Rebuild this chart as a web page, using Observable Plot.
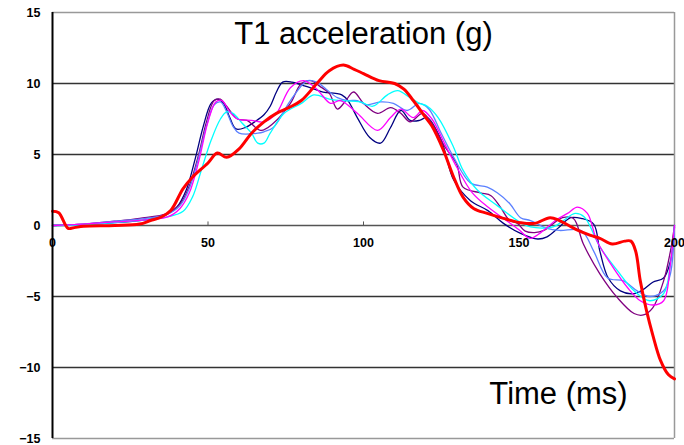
<!DOCTYPE html>
<html><head><meta charset="utf-8">
<script src="https://cdn.jsdelivr.net/npm/d3@7"></script>
<script src="https://cdn.jsdelivr.net/npm/@observablehq/plot@0.6"></script>
<style>
html,body{margin:0;padding:0;background:#fff;}
#chart svg{display:block;font-family:"Liberation Sans",Arial,sans-serif;}
</style></head>
<body><div id="chart"></div>
<script>
const title = "T1 acceleration (g)";
const xLabel = "Time (ms)";
const xTicks = [0, 50, 100, 150, 200];
const yTicks = [-15, -10, -5, 0, 5, 10, 15];
const gridValues = [10, 5, -5, -10];

const redT = [0,2,5,7,10,20,28,31.5,35,38,42,45,50,53,56,60,64,68,72,76,80,85,89,93.5,97,100,105,110,113,116,120,122,125.7,129,132,135.4,139.8,145,150.5,155,160,163,166,169,173,176,180,184,186,187.5,189,191,193,195.5,198,200];
const redV = [1.0,0.9,-0.2,-0.15,-0.05,0.0,0.1,0.35,0.6,1.05,2.6,3.4,4.4,5.1,4.8,5.4,6.5,7.3,7.9,8.3,8.8,10.0,10.9,11.3,11.0,10.7,10.2,10.0,9.6,8.8,7.6,7.0,5.3,3.4,2.0,1.2,0.85,0.5,0.2,0.15,0.55,0.35,0.0,-0.35,-0.7,-0.9,-1.3,-1.1,-1.1,-1.8,-3.9,-6.0,-7.7,-9.5,-10.5,-10.8];

const navyT = [0,10,20,30,36,40,43,46,48.5,51,53,55,57,59,62,65,68,70,72,74,77,80,83,87,91,93,95,98,102,105.5,108.7,112,115,118,120.5,125,129,134.4,140,145,150.5,156,159,163,166.6,170,174,176,178.7,182.6,187,190,193,196.5,198.7,200];
const navyV = [0,0.05,0.2,0.4,0.7,1.3,2.5,4.8,7.0,8.6,8.9,8.6,7.6,6.8,6.9,7.3,7.8,8.4,9.4,10.1,10.1,9.9,9.7,9.4,9.3,9.2,8.8,7.6,6.2,5.8,6.9,8.1,7.4,7.4,7.6,6.0,3.2,1.75,1.05,0.15,-0.55,-0.95,-0.8,-0.1,0.55,0.5,0.1,-1.8,-3.7,-4.6,-4.8,-4.5,-4.0,-3.7,-2.5,-0.1];

const purpleT = [0,10,20,28,37,41,44,47,49.5,52,54,56,59.5,62.5,67,71,76.5,80,83,86,89,91.6,94,96.8,100,104.5,108.7,112,115,119,122,126,130,132,137.6,141,144,147,149.5,152,155,158,164,167.5,170.7,176,181.7,187,190,193,196.5,198.7,200];
const purpleV = [0,0.1,0.3,0.5,0.85,1.5,2.8,5.0,7.3,8.8,8.9,8.4,7.5,7.4,6.7,7.2,8.6,10.0,10.2,9.8,9.3,8.2,8.7,9.4,8.6,7.9,8.3,7.9,7.3,7.9,7.2,5.6,4.3,2.7,2.3,2.1,1.3,0.35,0.15,-0.4,-0.5,-0.35,0.55,0.5,-1.3,-3.4,-5.1,-6.2,-6.3,-5.8,-3.9,-1.8,0];

const magentaT = [0,10,20,30,37,41,44,47,50,52.5,54.5,57,59.5,64,68,72,76.5,80.7,85,89.4,92.6,98,104.5,108.7,112,116,119,122,126,130,135,140,145,150,153.5,157,162,165.6,168.8,172,175,179.5,185,189,193,196.5,198.7,200];
const magentaV = [0,0.1,0.25,0.4,0.6,1.2,2.3,4.5,7.3,8.7,8.8,8.0,7.5,7.4,7.3,7.9,9.7,10.2,9.6,8.6,8.8,7.9,6.7,7.6,8.2,7.6,8.1,7.5,5.8,4.1,2.3,1.3,0.5,-0.3,-0.9,-0.5,0.4,0.85,1.3,0.85,-1.05,-2.7,-4.4,-5.3,-5.6,-5.3,-2.7,0];

const cyanT = [0,10,20,30,37,42,45,48,51,54,56,58,61,64,66,68,70,74.5,80,84,89,92.6,99,103,107.7,111,115,118,120.5,124,129,132,136.6,143,149.5,153.7,161,164,168,171,176,181.7,187,192,196.5,198.7,200];
const cyanV = [0,0.05,0.2,0.4,0.6,1.0,2.0,4.0,6.0,7.5,8.0,7.9,7.2,6.5,5.8,5.8,6.5,7.9,8.6,9.2,8.9,8.8,8.7,8.4,9.2,9.5,9.0,8.6,8.4,7.6,5.5,3.9,2.5,1.4,0.35,-0.1,-0.1,0.3,0.85,0.6,-1.5,-3.2,-4.6,-5.3,-4.8,-2.7,0];

const blueT = [0,10,20,30,37,41,44,47,49.5,52,54,56,58,60,66,68,71,76.5,82,85,88,91.6,95,98,101,105.5,109.6,114,118,121,125,129,134.4,139.8,143,147,150.5,153.7,159,163,170,174,178.5,183.6,188,192,196.5,198.7,200];
const blueV = [0,0.1,0.3,0.5,0.8,1.4,2.6,4.8,7.0,8.5,8.7,8.0,7.0,6.5,6.5,6.6,6.9,8.8,10.2,10.1,9.6,9.0,8.8,8.8,8.5,8.7,8.6,8.1,8.6,8.2,6.5,4.8,3.0,2.7,2.3,1.55,0.55,0.35,-0.2,-0.35,-0.35,-1.8,-3.7,-3.9,-4.6,-5.0,-4.6,-3.4,0];

const series = [
  {name: "navy", t: navyT, v: navyV, color: "#000080", w: 1.3},
  {name: "purple", t: purpleT, v: purpleV, color: "#800080", w: 1.3},
  {name: "blue", t: blueT, v: blueV, color: "#5B80FF", w: 1.3},
  {name: "cyan", t: cyanT, v: cyanV, color: "#00FFFF", w: 1.3},
  {name: "magenta", t: magentaT, v: magentaV, color: "#FF00FF", w: 1.3},
  {name: "red", t: redT, v: redV, color: "#FF0000", w: 3}
];

const lineMarks = series.map(s => Plot.line(s.t.map((t, i) => ({t, v: s.v[i]})), {
  x: "t", y: "v", stroke: s.color, strokeWidth: s.w, curve: "catmull-rom"
}));

const chart = Plot.plot({
  width: 684, height: 445,
  marginLeft: 52, marginRight: 10, marginTop: 12, marginBottom: 7,
  x: {domain: [0, 200], axis: null},
  y: {domain: [-15, 15], axis: null},
  style: {fontFamily: "Liberation Sans, Arial, sans-serif", background: "#fff"},
  marks: [
    Plot.ruleY(gridValues, {stroke: "#333", strokeWidth: 1.5}),
    Plot.ruleY([15, -15], {stroke: "#999", strokeWidth: 1.5}),
    Plot.ruleX([200], {stroke: "#999", strokeWidth: 1.5}),
    Plot.ruleY([0], {stroke: "#555", strokeWidth: 1.5}),
    Plot.ruleX(xTicks.slice(1, -1), {y1: 0, y2: 0.25, stroke: "#555", strokeWidth: 1}),
    ...lineMarks,
    Plot.ruleX([0], {stroke: "#000", strokeWidth: 2}),
    Plot.axisY({ticks: yTicks, tickSize: 0, tickPadding: 12, label: null, fontWeight: "bold", fontSize: 12.5, fill: "#000"}),
    Plot.text(xTicks, {x: d => d, y: 0, dy: 17, text: d => String(d), fontWeight: "bold", fontSize: 12.5, fill: "#000"}),
    Plot.text([title], {frameAnchor: "top", lineAnchor: "middle", dy: 22, fontSize: 31, fill: "#000"}),
    Plot.text([xLabel], {frameAnchor: "bottom", lineAnchor: "middle", dx: 195, dy: -44, fontSize: 31, fill: "#000"})
  ]
});
document.getElementById("chart").appendChild(chart);
</script>
</body></html>
